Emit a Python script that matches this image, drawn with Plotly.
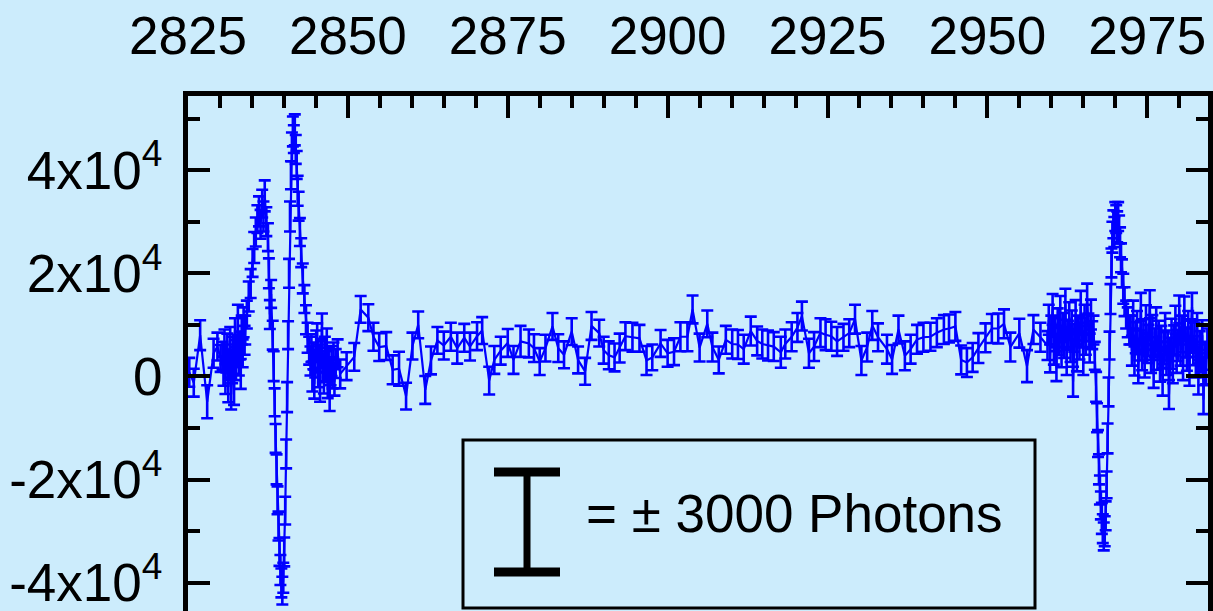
import plotly.graph_objects as go

# ---------------- data ----------------
# left edge, sparse
x_edge = [2825.2, 2825.9, 2826.9, 2828.0, 2829.0, 2829.6, 2830.1]
y_edge = [800, -1200, 8000, -4900, 4500, 5800, 3500]
e_edge = [2800, 2700, 2900, 3200, 2800, 2700, 2600]

# first dense cluster
x_clu1 = [2830.4, 2830.55, 2830.7, 2830.85, 2831.0, 2831.15, 2831.3, 2831.45, 2831.6, 2831.75,
          2831.9, 2832.05, 2832.2, 2832.35, 2832.5, 2832.65, 2832.8, 2832.95, 2833.1, 2833.25,
          2833.4, 2833.55, 2833.7, 2833.85]
y_clu1 = [4000, 1000, 6500, -500, 3500, 5500, -2000, 2500, 7000, -3500,
          1500, 5000, -2500, 8500, 2000, 4500, 11000, 3000, 6000, 500,
          9000, 4500, 10500, 7000]
e_clu1 = [2700, 2800, 2600, 2900, 2700, 2800, 3000, 2700, 2600, 2900,
          2800, 2700, 3000, 2800, 2700, 2600, 2900, 2800, 2700, 2900,
          2800, 2700, 2900, 2800]

# peak 1, plunge, peak 2
x_pk = [2833.95, 2834.2, 2834.5, 2834.8, 2835.1, 2835.35, 2835.6, 2835.85, 2836.1, 2836.35,
        2836.6, 2836.8, 2837.0, 2837.25, 2837.5, 2837.65, 2837.8, 2838.0, 2838.25, 2838.4,
        2838.55, 2838.7, 2838.85, 2839.0, 2839.15, 2839.3, 2839.45, 2839.6, 2839.75, 2839.9,
        2840.05, 2840.2, 2840.35, 2840.5, 2840.65, 2840.8, 2840.95, 2841.1, 2841.25, 2841.4,
        2841.55, 2841.7, 2841.85, 2842.0, 2842.15, 2842.3, 2842.5, 2842.7, 2842.95, 2843.2,
        2843.45, 2843.7, 2843.95]
y_pk = [9000, 12000, 15500, 18000, 22000, 25000, 28000, 30500, 32000, 29500,
        33500, 31000, 35000, 30000, 27000, 20000, 12000, 16000, 8000, 2000,
        -5000, -12000, -18000, -24000, -29000, -34000, -37500, -40000, -41500, -39000,
        -34000, -26000, -15000, -4000, 8000, 20000, 31000, 39000, 44500, 47500,
        46000, 47800, 44000, 41000, 36000, 33000, 28000, 24000, 19000, 15000,
        11000, 7500, 5000]
e_pk = [2800, 2700, 2900, 2800, 2700, 3000, 2800, 2700, 2900, 2800,
        2700, 2900, 3000, 2800, 2700, 2900, 2800, 2700, 2800, 2900,
        2700, 2800, 2900, 2700, 2800, 2700, 2900, 2800, 2700, 2900,
        2800, 2700, 2800, 2900, 2700, 2800, 2900, 2700, 2800, 2900,
        2700, 3000, 2800, 2700, 2900, 2800, 2700, 2800, 2900, 2700,
        2800, 2900, 2700]

# second dense cluster
x_clu2 = [2844.15, 2844.3, 2844.45, 2844.6, 2844.75, 2844.9, 2845.05, 2845.2, 2845.35, 2845.5,
          2845.65, 2845.8, 2845.95, 2846.1, 2846.25, 2846.4, 2846.55, 2846.7, 2846.85, 2847.0,
          2847.15, 2847.3, 2847.45, 2847.6, 2847.75, 2847.9, 2848.1, 2848.4, 2848.8]
y_clu2 = [3000, 5500, 0, 4000, -1500, 2500, 6000, 7500, 500, 3500,
          -2000, 4500, 9500, 1500, -500, 5000, 2000, 6500, -1500, 3000,
          -3500, 1000, 3000, 500, 4000, -1000, 2500, 4500, 500]
e_clu2 = [2800, 2700, 2900, 2600, 2800, 2700, 2900, 2800, 2600, 2700,
          2900, 2800, 2700, 2600, 2800, 2700, 2900, 2800, 2700, 2600,
          3200, 2700, 2900, 2800, 2600, 2700, 2800, 2700, 2800]

# sparse middle
x_mid = [2849.8, 2851.0, 2852.0, 2853.2, 2854.0, 2854.9, 2856.0, 2857.0, 2858.0, 2859.1,
         2860.1, 2861.0, 2862.1, 2863.0, 2864.0, 2865.0, 2866.1, 2867.1, 2868.2, 2869.1,
         2870.2, 2871.0, 2872.1, 2872.9, 2873.9, 2875.0, 2875.9, 2877.0, 2878.3, 2879.1,
         2880.0, 2880.9, 2882.0, 2882.9, 2883.8, 2885.0, 2886.0, 2887.1, 2888.1, 2889.3,
         2890.0, 2890.8, 2891.7, 2892.5, 2893.4, 2894.5, 2895.6, 2896.7, 2897.6, 2898.9,
         2900.0, 2901.0, 2902.0, 2903.1, 2903.9, 2905.0, 2906.2, 2907.0, 2908.0, 2909.1,
         2910.1, 2911.0, 2911.9, 2913.0, 2914.0, 2914.8, 2915.7, 2916.6, 2917.7, 2918.4,
         2919.4, 2920.3, 2921.0, 2922.1, 2922.9, 2923.9, 2924.7, 2925.6, 2926.5, 2927.5,
         2928.4, 2929.3, 2930.3, 2931.2, 2932.0, 2932.9, 2934.3, 2935.1, 2936.1, 2937.1,
         2938.0, 2939.0, 2940.0, 2941.1, 2942.1, 2943.2, 2944.0, 2945.0, 2945.9, 2946.8,
         2947.7, 2948.6, 2949.7, 2950.7, 2951.7, 2952.6, 2953.6, 2955.0, 2956.2, 2957.2,
         2958.3]
y_mid = [2000, 3800, 13000, 11400, 7700, 5700, 5900, 1300, 1500, -3800,
         5900, 10000, -2600, 3100, 7000, 6000, 7700, 5500, 7500, 5800,
         7800, 8900, -800, 3200, 5000, 6500, 3200, 6800, 6400, 5500,
         2900, 5500, 9700, 5500, 4200, 8700, 3200, 1000, 9800, 8400,
         5100, 4100, 3700, 5500, 7800, 7600, 7400, 3100, 3700, 6400,
         4500, 4800, 7700, 7700, 13000, 5600, 10200, 5700, 3200, 7100,
         6300, 6200, 5300, 8800, 6900, 6300, 6000, 5800, 4700, 6300,
         7700, 9500, 11700, 4500, 5800, 8500, 8100, 7800, 6800, 7600,
         8400, 11100, 3100, 5700, 9900, 7600, 5300, 3300, 9100, 4000,
         5300, 7200, 7600, 7700, 8500, 9100, 9300, 9700, 3200, 2700,
         3700, 5500, 7500, 9300, 9300, 10200, 5700, 8400, 2000, 9100,
         7600]
e_mid = [2700, 2700, 2600, 2600, 2700, 2700, 2700, 2800, 3300, 2600,
         2600, 2600, 2700, 2700, 2600, 2700, 2700, 3000, 2700, 2700,
         2700, 2600, 2700, 2700, 2700, 2700, 2700, 3000, 2700, 2700,
         2600, 2600, 2600, 2700, 2600, 2600, 2600, 2600, 2700, 2600,
         2600, 2700, 2700, 2800, 2700, 2800, 2600, 2800, 2500, 2600,
         2600, 2600, 2800, 2800, 2700, 2700, 2600, 2800, 2600, 2700,
         2800, 2800, 2800, 2800, 2800, 2800, 2900, 2800, 3000, 2800,
         2800, 2800, 2800, 2800, 2800, 2800, 3000, 2800, 2800, 2600,
         2700, 2800, 2800, 2800, 2800, 2700, 2800, 2800, 2700, 2800,
         2800, 2800, 2800, 2700, 2800, 2800, 2700, 2800, 2800, 2800,
         2800, 2900, 2800, 2800, 2900, 2800, 2800, 2800, 3100, 2800,
         2800]

# right dense cluster A
x_cluA = [2959.4, 2959.6, 2959.8, 2960.0, 2960.2, 2960.4, 2960.6, 2960.8, 2961.0, 2961.2,
          2961.4, 2961.6, 2961.8, 2962.0, 2962.2, 2962.4, 2962.6, 2962.8, 2963.0, 2963.2,
          2963.4, 2963.6, 2963.8, 2964.0, 2964.2, 2964.4, 2964.6, 2964.8, 2965.0, 2965.2,
          2965.4, 2965.6, 2965.8, 2966.0, 2966.2, 2966.4]
y_cluA = [6000, 11000, 3500, 9000, 13000, 5000, 8500, 2000, 10500, 7000,
          12500, 4500, 9500, 6500, 14000, 3000, 8000, 11500, 5500, 10000,
          -1000, 7500, 12000, 4000, 9000, 6000, 13500, 8500, 3000, 11000,
          7000, 15000, 9500, 5500, 12000, 8000]
e_cluA = [2800, 2900, 2700, 2800, 3000, 2700, 2800, 2900, 2700, 2800,
          3100, 2700, 2800, 2900, 3000, 2700, 2800, 2900, 2700, 2800,
          2900, 2700, 2800, 3000, 2800, 2700, 3100, 2800, 2700, 2900,
          2800, 3000, 2700, 2800, 2900, 2700]

# dip and peak 3
x_dp = [2966.6, 2966.8, 2967.0, 2967.15, 2967.3, 2967.45, 2967.6, 2967.75, 2967.9, 2968.05,
        2968.2, 2968.35, 2968.5, 2968.65, 2968.8, 2968.95, 2969.1, 2969.25, 2969.4, 2969.55,
        2969.7, 2969.85, 2970.0, 2970.15, 2970.3, 2970.45, 2970.6, 2970.75, 2970.9, 2971.05,
        2971.25, 2971.45, 2971.7, 2971.95, 2972.2]
y_dp = [9000, 4000, -2000, -8000, -13000, -18000, -22000, -25000, -27500, -29500,
        -31000, -30000, -27000, -21000, -12000, -3000, 6000, 15000, 22000, 27000,
        29500, 28000, 31000, 30500, 29000, 31000, 28500, 26000, 23000, 20000,
        17000, 14500, 12000, 10500, 9000]
e_dp = [2800, 2700, 2900, 2800, 2600, 2900, 2800, 2700, 3000, 2800,
        2700, 2900, 2800, 2600, 2900, 2800, 2700, 2900, 2800, 3000,
        2700, 2900, 2800, 2700, 3000, 2800, 2700, 2900, 2800, 2700,
        2900, 2800, 2700, 2900, 2800]

# right dense cluster B
x_cluB = [2972.4, 2972.6, 2972.8, 2973.0, 2973.2, 2973.4, 2973.6, 2973.8, 2974.0, 2974.2,
          2974.4, 2974.6, 2974.8, 2975.0, 2975.2, 2975.4, 2975.6, 2975.8, 2976.0, 2976.2,
          2976.4, 2976.6, 2976.8, 2977.0, 2977.2, 2977.4, 2977.6, 2977.8, 2978.0, 2978.2,
          2978.4, 2978.6, 2978.8, 2979.0, 2979.2, 2979.4, 2979.6, 2979.8, 2980.0, 2980.2,
          2980.4, 2980.6, 2980.8, 2981.0, 2981.2, 2981.4, 2981.6, 2981.8, 2982.0, 2982.2,
          2982.4, 2982.6, 2982.8, 2983.0, 2983.2, 2983.4, 2983.6, 2983.8, 2984.0, 2984.2,
          2984.4]
y_cluB = [9000, 5000, 12000, 3000, 7500, 10000, 1500, 6000, 13500, 4000,
          8000, 2500, 11000, 5500, 7000, 14000, 3500, 9000, 500, 6500,
          10500, 4000, 8000, 2000, 7000, -1000, 5500, 9500, 3000, 6000,
          -3500, 4500, 8500, 1500, 7000, 11000, 3500, 6000, 13000, 5000,
          9000, 2000, 12500, 6500, 4000, 10000, 1000, 8000, 13500, 5000,
          7500, 2500, 9500, -500, 6000, 3500, 8000, -4500, 4000, 1500,
          6500]
e_cluB = [2800, 2900, 2700, 2800, 3000, 2700, 2800, 2900, 2700, 2800,
          3100, 2700, 2800, 2900, 3000, 2700, 2800, 2900, 2700, 2800,
          2900, 2700, 2800, 3000, 2800, 2700, 3100, 2800, 2700, 2900,
          2800, 3000, 2700, 2800, 2900, 2700, 2800, 3000, 2700, 2900,
          2800, 2700, 3000, 2800, 2900, 2700, 2800, 3100, 2700, 2800,
          2900, 2700, 2800, 3000, 2800, 2700, 2900, 2800, 2700, 3000,
          2800]

y_tickvals = [-40000, -20000, 0, 20000, 40000]
y_ticktext = ["-4x10<sup>4</sup>", "-2x10<sup>4</sup>", "0", "2x10<sup>4</sup>", "4x10<sup>4</sup>"]
y_minorvals = [-30000, -10000, 10000, 30000, 50000]
legend_text = "= ± 3000 Photons"

x_all = x_edge + x_clu1 + x_pk + x_clu2 + x_mid + x_cluA + x_dp + x_cluB
y_all = y_edge + y_clu1 + y_pk + y_clu2 + y_mid + y_cluA + y_dp + y_cluB
e_all = e_edge + e_clu1 + e_pk + e_clu2 + e_mid + e_cluA + e_dp + e_cluB

# ---------------- layout constants ----------------
W, H = 1213, 611
ML, MR, MT, MB = 188, 5, 96, 0
X_RANGE = [2825, 2984.5]
Y_RANGE = [-45450, 54360]
BG = "#CCECFC"
BLUE = "#0000FF"
FONT = "Liberation Sans, Arial, sans-serif"
FS = 53


def pxx(px):
    return (px - ML) / (W - ML - MR)


def pxy(py):
    return (H - MB - py) / (H - MT - MB)


fig = go.Figure()
fig.add_trace(go.Scatter(
    x=x_all, y=y_all, mode="lines",
    line=dict(color=BLUE, width=2.2),
    error_y=dict(type="data", array=e_all, visible=True, color=BLUE, thickness=2.6, width=6),
    showlegend=False, hoverinfo="skip",
))

tick_common = dict(ticks="inside", ticklen=22, tickwidth=4, tickcolor="black",
                   showline=True, linecolor="black", linewidth=5,
                   showgrid=False, zeroline=False, automargin=False,
                   ticklabeloverflow="allow",
                   tickfont=dict(family=FONT, size=FS, color="black"))

fig.update_layout(
    width=W, height=H,
    margin=dict(l=ML, r=MR, t=MT, b=MB, pad=0),
    paper_bgcolor=BG, plot_bgcolor=BG,
    xaxis=dict(side="top", range=X_RANGE, tickmode="linear", tick0=2825, dtick=25,
               mirror=False, ticklabelstandoff=16,
               minor=dict(ticks="inside", ticklen=12, tickwidth=4, tickcolor="black",
                          tick0=2825, dtick=5, showgrid=False),
               **tick_common),
    yaxis=dict(range=Y_RANGE, tickmode="array", tickvals=y_tickvals, ticktext=y_ticktext,
               mirror="allticks", ticklabelstandoff=10,
               minor=dict(ticks="inside", ticklen=12, tickwidth=4, tickcolor="black",
                          tickmode="array", tickvals=y_minorvals, showgrid=False),
               **tick_common),
    shapes=[
        dict(type="rect", xref="paper", yref="paper",
             x0=pxx(463), x1=pxx(1035), y0=pxy(608), y1=pxy(440),
             line=dict(color="black", width=3), fillcolor="rgba(0,0,0,0)"),
        dict(type="line", xref="paper", yref="paper",
             x0=pxx(527), x1=pxx(527), y0=pxy(572), y1=pxy(472),
             line=dict(color="black", width=7)),
        dict(type="line", xref="paper", yref="paper",
             x0=pxx(494), x1=pxx(560), y0=pxy(472), y1=pxy(472),
             line=dict(color="black", width=9)),
        dict(type="line", xref="paper", yref="paper",
             x0=pxx(494), x1=pxx(560), y0=pxy(572), y1=pxy(572),
             line=dict(color="black", width=9)),
    ],
    annotations=[
        dict(text=legend_text, xref="paper", yref="paper", x=pxx(584), y=pxy(513),
             xanchor="left", yanchor="middle", showarrow=False,
             font=dict(family=FONT, size=FS, color="black")),
    ],
)

fig.write_html("out.html")
